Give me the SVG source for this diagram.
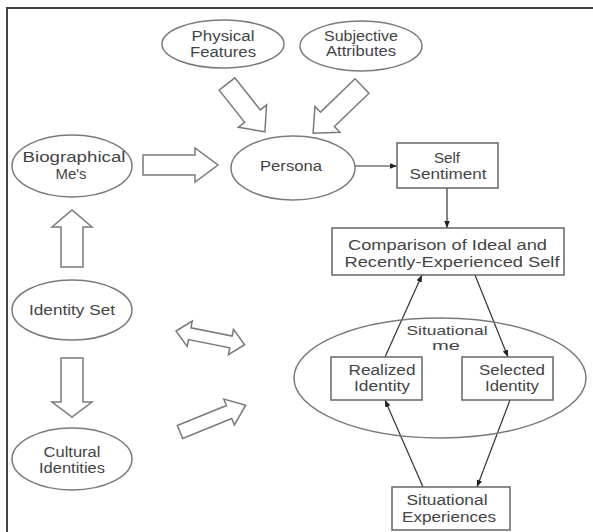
<svg xmlns="http://www.w3.org/2000/svg" width="593" height="532" viewBox="0 0 593 532">
<defs>
<marker id="ah" viewBox="0 0 10 10" refX="10" refY="5" markerWidth="7" markerHeight="7" orient="auto" markerUnits="userSpaceOnUse"><path d="M0,1 L10,5 L0,9 z" fill="#222"/></marker>
</defs>
<style>
.el{fill:#fff;stroke:#7a7a7a;stroke-width:1.5}
.bx{fill:#fff;stroke:#666;stroke-width:1.5}
.ba{fill:#fff;stroke:#7a7a7a;stroke-width:1.5;stroke-linejoin:miter}
.t{font-family:"Liberation Sans",Arial,sans-serif;font-size:14px;fill:#444;text-anchor:middle}
.ln{stroke:#333;stroke-width:1.2;fill:none;marker-end:url(#ah)}
</style>
<rect width="593" height="532" fill="#fff"/>
<path d="M7,532 V8 H593" fill="none" stroke="#444" stroke-width="2"/>

<g id="connectors">
<polygon class="ba" transform="translate(143,165)" points="0,-10 52,-10 52,-17 75,0 52,17 52,10 0,10"/>
<polygon class="ba" transform="translate(227,84) rotate(51.6)" points="0,-10 41,-10 41,-18 61,0 41,18 41,10 0,10"/>
<polygon class="ba" transform="translate(362,86) rotate(136)" points="0,-10 48,-10 48,-18 68,0 48,18 48,10 0,10"/>
<polygon class="ba" transform="translate(72,267) rotate(-90)" points="0,-11 40,-11 40,-20 57,0 40,20 40,11 0,11"/>
<polygon class="ba" transform="translate(72,358) rotate(90)" points="0,-11 44,-11 44,-20 59,0 44,20 44,11 0,11"/>
<polygon class="ba" transform="translate(176,331) rotate(11.3)" points="0,0 14,-13 14,-6 56,-6 56,-13 70,0 56,13 56,6 14,6 14,13"/>
<polygon class="ba" transform="translate(180,432) rotate(-22.2)" points="0,-7 53,-7 53,-14 71,0 53,14 53,7 0,7"/>
<line class="ln" x1="355" y1="166" x2="397" y2="166"/>
<line class="ln" x1="447" y1="188" x2="447" y2="228"/>
<line class="ln" x1="385" y1="357" x2="422" y2="275"/>
<line class="ln" x1="475" y1="275" x2="508" y2="357"/>
<line class="ln" x1="423" y1="487" x2="385" y2="400"/>
<line class="ln" x1="510" y1="400" x2="477" y2="487"/>
</g>

<g id="physical">
<ellipse class="el" cx="223" cy="44" rx="61" ry="24"/>
<text class="t" x="223" y="41" textLength="63" lengthAdjust="spacingAndGlyphs">Physical</text>
<text class="t" x="223" y="57" textLength="66" lengthAdjust="spacingAndGlyphs">Features</text>
</g>
<g id="subjective">
<ellipse class="el" cx="361" cy="46" rx="61" ry="25"/>
<text class="t" x="361" y="41" textLength="74" lengthAdjust="spacingAndGlyphs">Subjective</text>
<text class="t" x="361" y="56" textLength="70" lengthAdjust="spacingAndGlyphs">Attributes</text>
</g>
<g id="biographical">
<ellipse class="el" cx="72" cy="166" rx="60" ry="31"/>
<text class="t" x="74" y="162" textLength="103" lengthAdjust="spacingAndGlyphs">Biographical</text>
<text class="t" x="71" y="179" textLength="31" lengthAdjust="spacingAndGlyphs">Me's</text>
</g>
<g id="persona">
<ellipse class="el" cx="293" cy="168" rx="62" ry="32"/>
<text class="t" x="291" y="171" textLength="62" lengthAdjust="spacingAndGlyphs">Persona</text>
</g>
<g id="selfsentiment">
<rect class="bx" x="397" y="143" width="101" height="45"/>
<text class="t" x="447" y="163" textLength="26" lengthAdjust="spacingAndGlyphs">Self</text>
<text class="t" x="448" y="179" textLength="77" lengthAdjust="spacingAndGlyphs">Sentiment</text>
</g>
<g id="comparison">
<rect class="bx" x="332" y="228" width="232" height="47"/>
<text class="t" x="447.5" y="250" textLength="199" lengthAdjust="spacingAndGlyphs">Comparison of Ideal and</text>
<text class="t" x="452" y="267" textLength="215" lengthAdjust="spacingAndGlyphs">Recently-Experienced Self</text>
</g>
<g id="identityset">
<ellipse class="el" cx="72" cy="310" rx="60" ry="30"/>
<text class="t" x="72" y="315" textLength="86" lengthAdjust="spacingAndGlyphs">Identity Set</text>
</g>
<g id="cultural">
<ellipse class="el" cx="72" cy="459" rx="60" ry="31"/>
<text class="t" x="72" y="457" textLength="57" lengthAdjust="spacingAndGlyphs">Cultural</text>
<text class="t" x="72" y="473" textLength="66" lengthAdjust="spacingAndGlyphs">Identities</text>
</g>
<g id="situationalme">
<ellipse class="el" cx="440" cy="378" rx="146" ry="60" style="fill:none"/>
<text class="t" x="447" y="335" textLength="81" lengthAdjust="spacingAndGlyphs" style="font-size:13px">Situational</text>
<text class="t" x="446" y="350" textLength="28" lengthAdjust="spacingAndGlyphs" style="font-size:13px">me</text>
</g>
<g id="realized">
<rect class="bx" x="331" y="357" width="91" height="43"/>
<text class="t" x="382" y="375" textLength="67" lengthAdjust="spacingAndGlyphs">Realized</text>
<text class="t" x="382" y="391" textLength="56" lengthAdjust="spacingAndGlyphs">Identity</text>
</g>
<g id="selected">
<rect class="bx" x="462" y="357" width="91" height="43"/>
<text class="t" x="512" y="375" textLength="66" lengthAdjust="spacingAndGlyphs">Selected</text>
<text class="t" x="512" y="391" textLength="54" lengthAdjust="spacingAndGlyphs">Identity</text>
</g>
<g id="situationalexp">
<rect class="bx" x="392" y="487" width="118" height="43"/>
<text class="t" x="447" y="505" textLength="81" lengthAdjust="spacingAndGlyphs">Situational</text>
<text class="t" x="449" y="522" textLength="94" lengthAdjust="spacingAndGlyphs">Experiences</text>
</g>
</svg>
